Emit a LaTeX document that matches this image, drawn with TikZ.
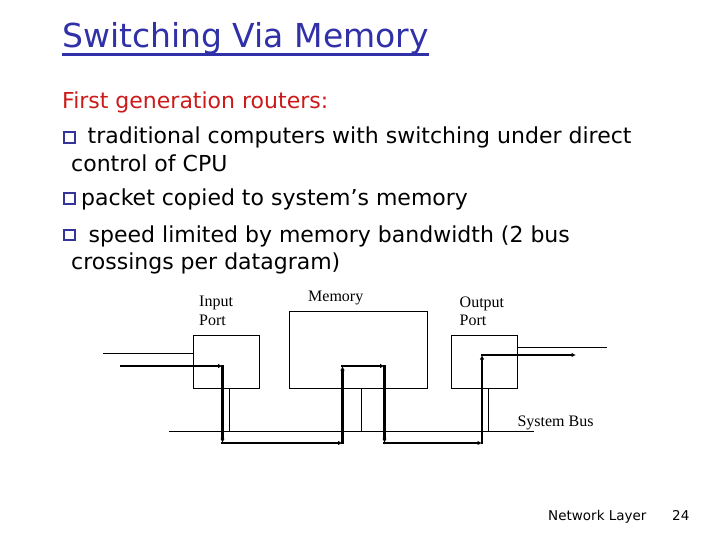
\documentclass[tikz,border=0pt]{standalone}
\usepackage{fontspec}
\setmainfont{DejaVu Sans}
\newfontfamily\lblfont{Liberation Serif}
\usetikzlibrary{arrows.meta}
\definecolor{ctitle}{HTML}{3030A8}
\definecolor{cred}{HTML}{CC1A1A}
\definecolor{cbullet}{HTML}{34349A}

\begin{document}
\begin{tikzpicture}[
  x=1pt, y=-1pt,
  title/.style={anchor=base west, inner sep=0pt, text=ctitle, font=\fontsize{33}{36}\selectfont},
  body/.style={anchor=base west, inner sep=0pt, font=\fontsize{22}{26}\selectfont},
  bullet/.style={draw=cbullet, line width=1.6pt, minimum width=11pt, minimum height=10.5pt, inner sep=0pt},
  lbl/.style={anchor=base west, inner sep=0pt, align=left, font=\lblfont\fontsize{16}{18.5}\selectfont},
  foot/.style={anchor=base west, inner sep=0pt, font=\fontsize{13.5}{16}\selectfont},
  port/.style={draw, line width=1pt, inner sep=0pt},
  wire/.style={line width=1pt},
  pkt/.style={line width=2.5pt, line cap=rect, -{Latex[length=4.5pt, width=4.5pt]}}
]
\useasboundingbox (0,0) rectangle (720,540);

% title
\node[title] (title) at (62,48) {Switching Via Memory};
\draw[ctitle, line width=2.6pt] ([yshift=-6.7pt]title.base west) -- ([yshift=-6.7pt]title.base east);

% text
\node[body, text=cred] (gen) at (62,109) {First generation routers:};
\node[bullet] (b1) at (69.5,137.5) {};
\node[body] (l1) at (87.5,144) {traditional computers with switching under direct};
\node[body] (l1b) at (71,172) {control of CPU};
\node[bullet] (b2) at (69.5,198.5) {};
\node[body] (l2) at (81,206) {packet copied to system’s memory};
\node[bullet] (b3) at (69.5,235) {};
\node[body] (l3) at (88.5,242) {speed limited by memory bandwidth (2 bus};
\node[body] (l3b) at (71,269) {crossings per datagram)};

% boxes
\node[port, minimum width=66pt, minimum height=53.3pt] (inport) at (226.3,362.3) {};
\node[port, minimum width=138pt, minimum height=77.3pt] (mem) at (358.3,350.3) {};
\node[port, minimum width=65.6pt, minimum height=53.3pt] (outport) at (484.5,362.3) {};
\node[lbl] (inlbl) at (199,325.2) {Input\\Port};
\node[lbl] (memlbl) at (308,301) {Memory};
\node[lbl] (outlbl) at (459.5,325.7) {Output\\Port};

% bus and links
\coordinate (busL) at (169,431);
\coordinate (busR) at (534,431);
\draw[wire] (busL) -- (busR);
\node[lbl] (buslbl) at (517.3,426.7) {System Bus};
\draw[wire] ([xshift=3pt]inport.south) -- ([xshift=3pt]inport.south |- busL);
\draw[wire] ([xshift=3pt]mem.south) -- ([xshift=3pt]mem.south |- busL);
\draw[wire] ([xshift=3.5pt]outport.south) -- ([xshift=3.5pt]outport.south |- busL);
\coordinate (linein) at (103,353);
\draw[wire] (linein) -- (linein -| inport.west);
\coordinate (lineout) at (607,347);
\draw[wire] (lineout -| outport.east) -- (lineout);

% packet path
\coordinate (pin) at (121,366);
\coordinate (c1) at (222.5,366);
\coordinate (c2) at (222.5,443);
\coordinate (c3) at (342.5,443);
\coordinate (c4) at (342.5,366);
\coordinate (c5) at (384.5,366);
\coordinate (c6) at (384.5,443);
\coordinate (c7) at (482,443);
\coordinate (c8) at (482,355);
\coordinate (pout) at (576,355);
\draw[pkt] (pin) -- (c1); \draw[pkt] (c1) -- (c2); \draw[pkt] (c2) -- (c3);
\draw[pkt] (c3) -- (c4); \draw[pkt] (c4) -- (c5); \draw[pkt] (c5) -- (c6);
\draw[pkt] (c6) -- (c7); \draw[pkt] (c7) -- (c8); \draw[pkt] (c8) -- (pout);

% footer
\node[foot] (foot) at (548,520) {Network Layer};
\node[foot] (pageno) at (672,520) {24};
\end{tikzpicture}
\end{document}
